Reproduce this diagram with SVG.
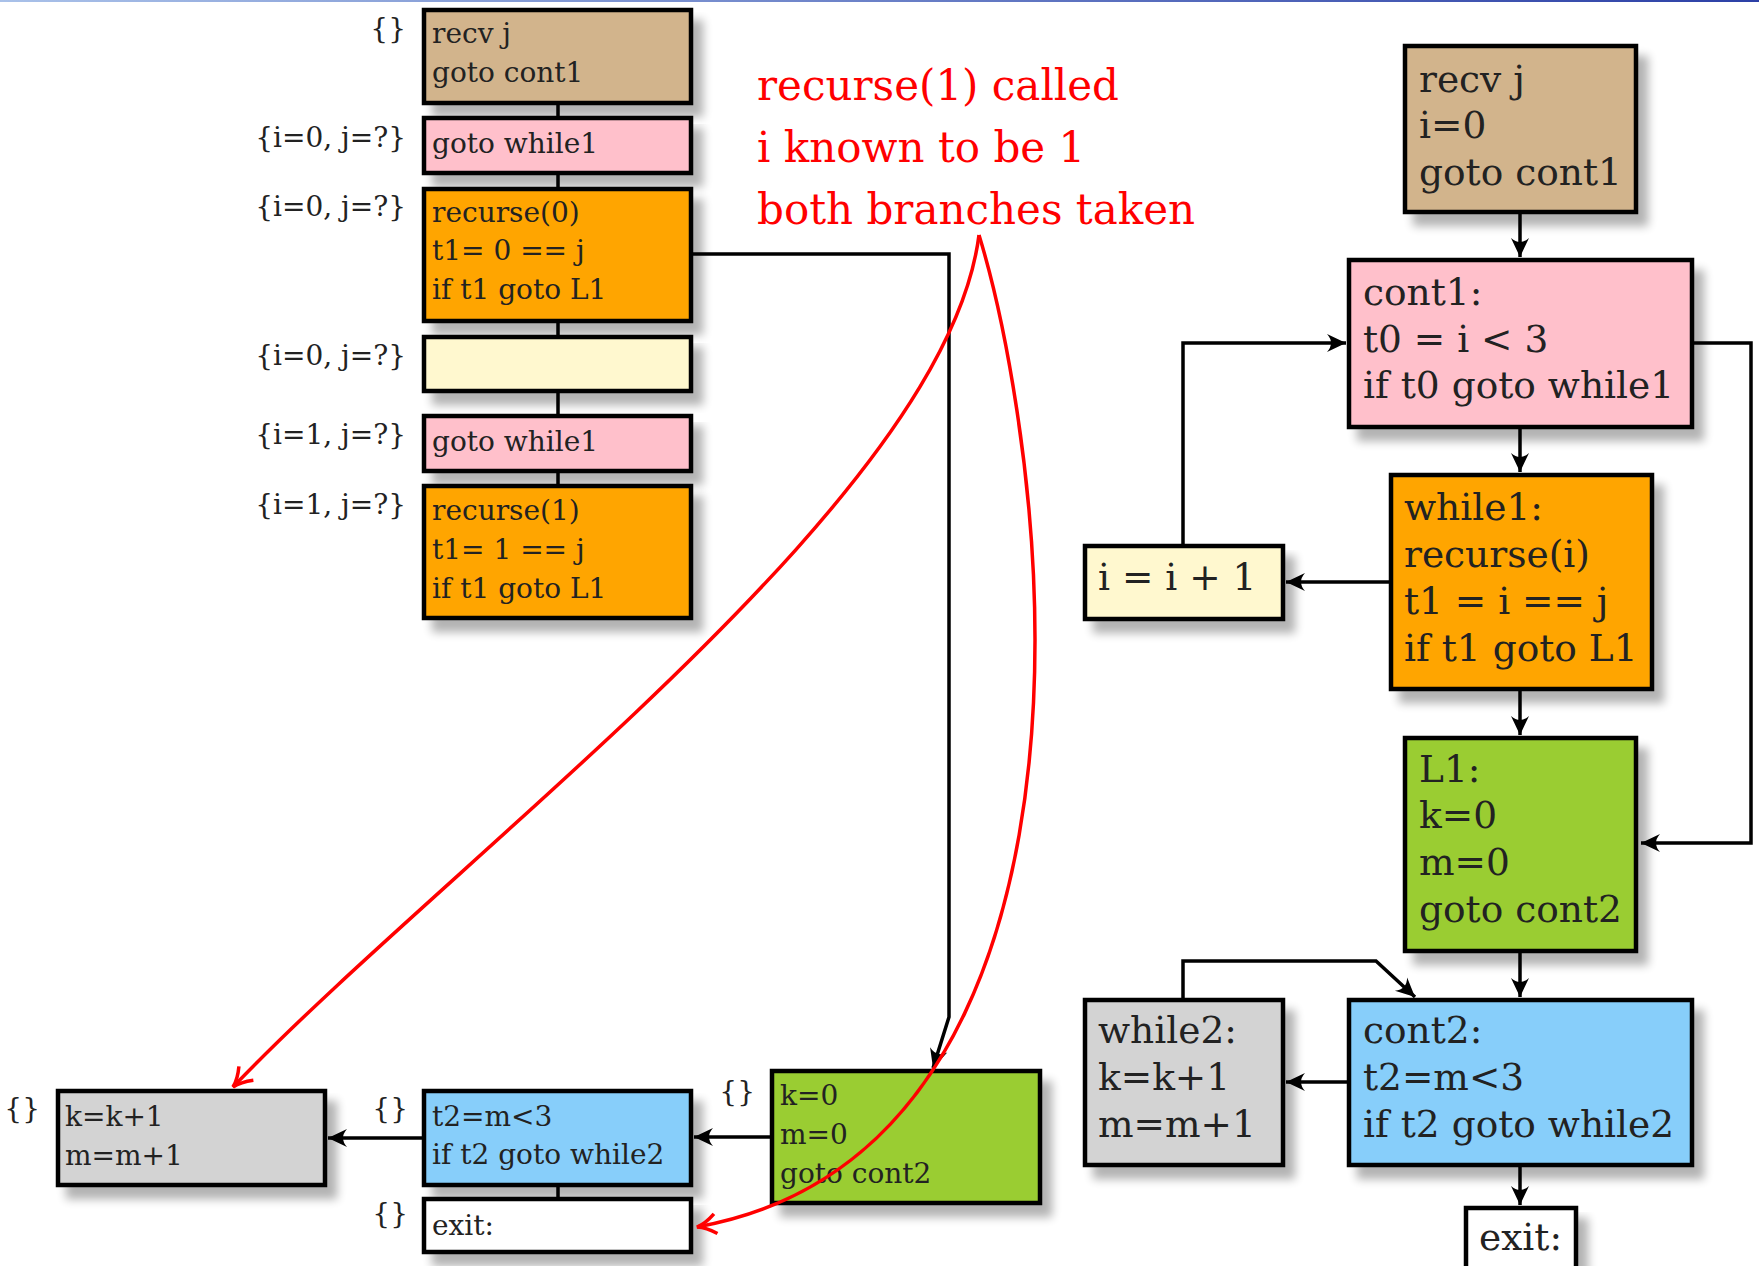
<svg xmlns="http://www.w3.org/2000/svg" width="1759" height="1266" viewBox="0 0 1759 1266">
<style>
.bx{stroke:#000;stroke-width:4.5;filter:url(#sh)}
.t{font-family:"DejaVu Serif",serif;fill:#222}
.s{font-size:28px}
.b{font-size:37.5px}
.lb{font-family:"DejaVu Serif",serif;fill:#222;font-size:28px;text-anchor:end}
.red{font-family:"DejaVu Serif",serif;fill:#f00;font-size:42px}
.c{fill:none;stroke:#000;stroke-width:3.5}
.ca{fill:none;stroke:#000;stroke-width:3.5;marker-end:url(#ah)}
.rc{fill:none;stroke:#f00;stroke-width:3.5;marker-end:url(#rh)}
</style>
<defs>
<linearGradient id="tb" x1="0" x2="1" y1="0" y2="0"><stop offset="0" stop-color="#a9c1e9"/><stop offset="1" stop-color="#2c40a6"/></linearGradient>
<filter id="sh" x="-10%" y="-10%" width="130%" height="150%">
<feGaussianBlur in="SourceAlpha" stdDeviation="5"/>
<feOffset dx="10" dy="12"/>
<feComponentTransfer><feFuncA type="linear" slope="0.3"/></feComponentTransfer>
<feMerge><feMergeNode/><feMergeNode in="SourceGraphic"/></feMerge>
</filter>
<marker id="ah" markerUnits="userSpaceOnUse" markerWidth="26" markerHeight="22" refX="22" refY="11" orient="auto" viewBox="0 0 26 22">
<path d="M22,11 L3,2 Q11,11 3,20 Z" fill="#000"/>
</marker>
<marker id="rh" markerUnits="userSpaceOnUse" markerWidth="26" markerHeight="24" refX="22" refY="12" orient="auto" viewBox="0 0 26 24">
<path d="M3,2 Q13,10 22,12 Q13,14 3,22" fill="none" stroke="#f00" stroke-width="3.5"/>
</marker>
</defs>
<rect x="0" y="0" width="1759" height="2" fill="url(#tb)"/>

<g id="connectors">
<path class="c" d="M558,103 V117 M558,174 V187 M558,322 V335 M558,392 V414 M558,472 V484 M558,1186 V1198"/>
<path class="ca" d="M771,1137 H694"/>
<path class="ca" d="M423,1138 H328"/>
<path class="ca" d="M692,254 H949 V1017 L933,1068"/>
<path class="ca" d="M1520,213 V257"/>
<path class="ca" d="M1520,428 V472"/>
<path class="ca" d="M1520,690 V735"/>
<path class="ca" d="M1520,952 V997"/>
<path class="ca" d="M1520,1166 V1205"/>
<path class="ca" d="M1389,582 H1286"/>
<path class="ca" d="M1347,1082 H1286"/>
<path class="ca" d="M1183,544 V343 H1346"/>
<path class="ca" d="M1693,343 H1751 V843 H1641"/>
<path class="ca" d="M1183,998 V961 H1376 L1415,997"/>
</g>

<g id="trace-recv"><rect class="bx" x="424" y="10" width="267" height="93" fill="#D2B48C"/>
<text class="lb" x="406" y="38">{}</text>
<text class="t s" x="432" y="43">recv j</text><text class="t s" x="432" y="82">goto cont1</text></g>

<g id="trace-goto1"><rect class="bx" x="424" y="118" width="267" height="55" fill="#FFC0CB"/>
<text class="lb" x="406" y="147">{i=0, j=?}</text>
<text class="t s" x="432" y="153">goto while1</text></g>

<g id="trace-recurse0"><rect class="bx" x="424" y="189" width="267" height="132" fill="#FFA500"/>
<text class="lb" x="406" y="216">{i=0, j=?}</text>
<text class="t s" x="432" y="222">recurse(0)</text><text class="t s" x="432" y="260">t1= 0 == j</text><text class="t s" x="432" y="299">if t1 goto L1</text></g>

<g id="trace-empty"><rect class="bx" x="424" y="337" width="267" height="54" fill="#FFF8CF"/>
<text class="lb" x="406" y="365">{i=0, j=?}</text></g>

<g id="trace-goto2"><rect class="bx" x="424" y="416" width="267" height="55" fill="#FFC0CB"/>
<text class="lb" x="406" y="444">{i=1, j=?}</text>
<text class="t s" x="432" y="451">goto while1</text></g>

<g id="trace-recurse1"><rect class="bx" x="424" y="486" width="267" height="132" fill="#FFA500"/>
<text class="lb" x="406" y="514">{i=1, j=?}</text>
<text class="t s" x="432" y="520">recurse(1)</text><text class="t s" x="432" y="559">t1= 1 == j</text><text class="t s" x="432" y="598">if t1 goto L1</text></g>

<g id="trace-while2"><rect class="bx" x="58" y="1091" width="267" height="94" fill="#D3D3D3"/>
<text class="lb" x="40" y="1118">{}</text>
<text class="t s" x="65" y="1126">k=k+1</text><text class="t s" x="65" y="1165">m=m+1</text></g>

<g id="trace-cont2"><rect class="bx" x="424" y="1091" width="267" height="94" fill="#87CEFA"/>
<text class="lb" x="408" y="1118">{}</text>
<text class="t s" x="432" y="1126">t2=m&lt;3</text><text class="t s" x="432" y="1164">if t2 goto while2</text></g>

<g id="trace-exit"><rect class="bx" x="424" y="1199" width="267" height="53" fill="#fff"/>
<text class="lb" x="408" y="1223">{}</text>
<text class="t s" x="432" y="1235">exit:</text></g>

<g id="trace-L1"><rect class="bx" x="772" y="1071" width="268" height="132" fill="#9ACD32"/>
<text class="lb" x="755" y="1101">{}</text>
<text class="t s" x="780" y="1105">k=0</text><text class="t s" x="780" y="1144">m=0</text><text class="t s" x="780" y="1183">goto cont2</text></g>

<g id="cfg-recv"><rect class="bx" x="1405" y="46" width="231" height="166" fill="#D2B48C"/>
<text class="t b" x="1419" y="92">recv j</text><text class="t b" x="1419" y="138">i=0</text><text class="t b" x="1419" y="185">goto cont1</text></g>

<g id="cfg-cont1"><rect class="bx" x="1349" y="260" width="343" height="167" fill="#FFC0CB"/>
<text class="t b" x="1363" y="305">cont1:</text><text class="t b" x="1363" y="352">t0 = i &lt; 3</text><text class="t b" x="1363" y="398">if t0 goto while1</text></g>

<g id="cfg-while1"><rect class="bx" x="1391" y="475" width="261" height="214" fill="#FFA500"/>
<text class="t b" x="1404" y="520">while1:</text><text class="t b" x="1404" y="567">recurse(i)</text><text class="t b" x="1404" y="614">t1 = i == j</text><text class="t b" x="1404" y="661">if t1 goto L1</text></g>

<g id="cfg-inc"><rect class="bx" x="1085" y="546" width="198" height="73" fill="#FFF8CF"/>
<text class="t b" x="1098" y="590">i = i + 1</text></g>

<g id="cfg-L1"><rect class="bx" x="1405" y="738" width="231" height="213" fill="#9ACD32"/>
<text class="t b" x="1419" y="782">L1:</text><text class="t b" x="1419" y="828">k=0</text><text class="t b" x="1419" y="875">m=0</text><text class="t b" x="1419" y="922">goto cont2</text></g>

<g id="cfg-cont2"><rect class="bx" x="1349" y="1000" width="343" height="165" fill="#87CEFA"/>
<text class="t b" x="1363" y="1043">cont2:</text><text class="t b" x="1363" y="1090">t2=m&lt;3</text><text class="t b" x="1363" y="1137">if t2 goto while2</text></g>

<g id="cfg-while2"><rect class="bx" x="1085" y="1000" width="198" height="165" fill="#D3D3D3"/>
<text class="t b" x="1098" y="1043">while2:</text><text class="t b" x="1098" y="1090">k=k+1</text><text class="t b" x="1098" y="1137">m=m+1</text></g>

<g id="cfg-exit"><rect class="bx" x="1466" y="1208" width="110" height="80" fill="#fff"/>
<text class="t b" x="1479" y="1250">exit:</text></g>

<g id="annotation">
<text class="red" x="757" y="100">recurse(1) called</text>
<text class="red" x="757" y="162">i known to be 1</text>
<text class="red" x="757" y="224">both branches taken</text>
<path class="rc" d="M979,235 C945,500 460,850 233,1087"/>
<path class="rc" d="M979,235 C1005,320 1035,480 1035,640 C1035,900 960,1180 697,1227"/>
</g>
</svg>
